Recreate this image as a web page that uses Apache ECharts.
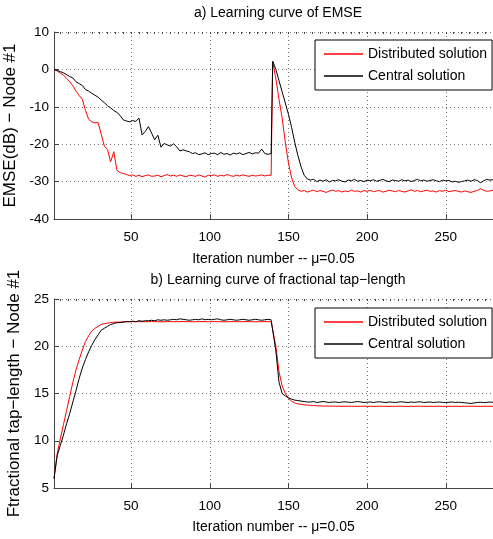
<!DOCTYPE html>
<html>
<head>
<meta charset="utf-8">
<script src="https://cdn.jsdelivr.net/npm/echarts@6/dist/echarts.min.js"></script>
<style>
html,body{margin:0;padding:0;background:#fff;}
#chart{width:493px;height:539px;}
</style>
</head>
<body>
<div id="chart"></div>
<script>
// iteration numbers of the samples (odd up to 139, even from 140)
var iterations = [1,3,5,7,9,11,13,15,17,19,21,23,25,27,29,31,33,35,37,39,
	41,43,45,47,49,51,53,55,57,59,61,63,65,67,69,71,73,75,77,79,
	81,83,85,87,89,91,93,95,97,99,101,103,105,107,109,111,113,115,117,119,
	121,123,125,127,129,131,133,135,137,139,
	140,142,144,146,148,150,152,154,156,158,160,162,164,166,168,170,172,174,176,178,
	180,182,184,186,188,190,192,194,196,198,200,202,204,206,208,210,212,214,216,218,
	220,222,224,226,228,230,232,234,236,238,240,242,244,246,248,250,252,254,256,258,
	260,262,264,266,268,270,272,274,276,278,280];

// a) EMSE (dB)
var emseDist = [0,-0.4,-1.0,-1.5,-2.4,-3.3,-4.4,-5.8,-7.0,-8.0,
	-11.0,-13.3,-14.0,-14.3,-14.2,-17.3,-20.5,-21.4,-24.7,-22.0,
	-27.0,-27.6,-27.8,-28.1,-28.4,-28.2,-28.6,-28.3,-28.7,-28.4,
	-28.2,-28.6,-28.5,-28.3,-28.7,-28.4,-28.1,-28.5,-28.3,-28.6,
	-28.2,-28.5,-28.7,-28.3,-28.4,-28.6,-28.2,-28.5,-28.8,-28.3,
	-28.4,-28.2,-28.6,-28.3,-28.5,-28.1,-28.4,-28.6,-28.3,-28.5,
	-28.2,-28.4,-28.6,-28.3,-28.5,-28.4,-28.2,-28.5,-28.3,-28.3,
	2.0,-2.5,-8.0,-13.0,-19.5,-25.0,-29.0,-31.3,-32.2,-32.6,
	-32.4,-32.8,-32.5,-32.3,-32.7,-32.4,-32.6,-32.9,-32.5,-32.3,
	-32.6,-32.4,-32.8,-32.5,-32.7,-32.3,-32.6,-32.5,-32.8,-32.4,
	-32.6,-32.3,-32.7,-32.5,-32.4,-32.8,-32.6,-32.3,-32.5,-32.7,
	-32.4,-32.6,-32.8,-32.5,-32.2,-32.6,-32.4,-32.7,-32.5,-32.3,
	-32.6,-32.5,-32.8,-32.4,-32.6,-32.3,-32.7,-32.5,-32.4,-32.6,
	-32.8,-32.5,-32.7,-32.9,-32.6,-32.4,-31.9,-32.3,-32.6,-32.5,
	-32.3];
var emseCentral = [0,-0.3,-0.6,-0.9,-1.4,-1.9,-2.3,-3.3,-3.8,-4.3,
	-5.4,-5.8,-6.4,-6.9,-7.4,-8.2,-8.9,-9.7,-10.3,-11.0,
	-11.5,-12.3,-13.5,-13.8,-14.0,-13.7,-13.9,-13.0,-17.5,-16.6,
	-15.3,-17.0,-18.8,-17.6,-20.8,-19.8,-20.2,-20.5,-19.9,-20.7,
	-21.8,-21.5,-21.8,-22.0,-22.5,-22.3,-22.8,-22.6,-22.3,-22.8,
	-22.5,-22.4,-22.8,-22.2,-22.7,-22.5,-22.9,-22.4,-22.6,-22.3,
	-22.8,-22.5,-22.2,-22.6,-22.3,-22.4,-21.3,-22.5,-22.7,-22.5,
	2.2,0.0,-3.0,-6.0,-9.0,-12.0,-15.5,-19.5,-23.0,-26.0,
	-28.3,-29.3,-29.6,-29.4,-30.0,-29.6,-29.9,-29.5,-30.1,-29.7,
	-29.8,-29.5,-29.9,-30.1,-29.6,-29.8,-29.4,-29.9,-29.7,-30.0,
	-29.6,-29.8,-29.5,-29.9,-29.7,-29.4,-29.8,-30.0,-29.6,-29.7,
	-29.9,-29.5,-29.8,-29.6,-30.0,-29.7,-29.4,-29.8,-29.6,-29.9,
	-29.7,-29.5,-29.8,-30.0,-29.6,-29.8,-29.7,-30.1,-29.9,-30.2,
	-30.0,-29.8,-29.6,-29.9,-29.5,-29.7,-30.3,-29.8,-29.4,-29.6,
	-29.5];

// b) fractional tap-length
var tapDist = [6.0,8.6,10.2,11.7,13.2,14.7,16.2,17.5,18.6,19.6,
	20.5,21.1,21.6,21.9,22.1,22.3,22.4,22.45,22.5,22.55,
	22.55,22.55,22.6,22.6,22.6,22.6,22.6,22.6,22.6,22.6,
	22.6,22.62,22.6,22.6,22.58,22.6,22.6,22.62,22.6,22.6,
	22.6,22.62,22.6,22.6,22.58,22.6,22.6,22.62,22.6,22.6,
	22.6,22.62,22.6,22.6,22.58,22.6,22.6,22.62,22.6,22.6,
	22.6,22.62,22.6,22.6,22.58,22.6,22.6,22.62,22.6,22.6,
	22.6,20.0,17.3,15.8,15.0,14.5,14.2,14.0,13.9,13.85,
	13.8,13.77,13.75,13.72,13.7,13.69,13.68,13.67,13.66,13.66,
	13.65,13.66,13.64,13.65,13.66,13.64,13.65,13.63,13.65,13.66,
	13.64,13.65,13.63,13.64,13.66,13.65,13.64,13.63,13.65,13.64,
	13.66,13.65,13.64,13.63,13.65,13.64,13.66,13.65,13.64,13.63,
	13.65,13.64,13.65,13.66,13.64,13.63,13.65,13.64,13.65,13.64,
	13.63,13.65,13.64,13.66,13.65,13.64,13.63,13.65,13.64,13.65,
	13.64];
var tapCentral = [6.0,8.4,9.5,10.6,11.8,12.9,14.1,15.3,16.6,17.7,
	18.6,19.4,20.1,20.7,21.2,21.7,21.9,22.1,22.3,22.4,
	22.5,22.5,22.55,22.6,22.6,22.65,22.6,22.7,22.65,22.7,
	22.7,22.75,22.7,22.8,22.75,22.8,22.75,22.8,22.85,22.8,
	22.9,22.85,22.8,22.75,22.8,22.85,22.8,22.9,22.8,22.85,
	22.8,22.85,22.9,22.8,22.75,22.8,22.85,22.8,22.75,22.8,
	22.85,22.8,22.75,22.8,22.85,22.8,22.75,22.8,22.85,22.8,
	22.8,19.5,16.2,15.0,14.75,14.55,14.4,14.3,14.25,14.2,
	14.15,14.1,14.1,14.15,14.05,14.1,14.15,14.1,14.05,14.1,
	14.1,14.05,14.1,14.12,14.08,14.05,14.1,14.15,14.1,14.05,
	14.08,14.1,14.05,14.1,14.12,14.08,14.05,14.1,14.08,14.05,
	14.1,14.12,14.08,14.05,14.1,14.06,14.1,14.12,14.05,14.08,
	14.1,14.05,14.08,14.1,14.06,14.04,14.08,14.1,14.05,14.08,
	14.05,14.02,13.98,13.95,14.0,14.05,14.08,14.04,14.06,14.1,
	14.06];

var seriesNames = ['Distributed solution', 'Central solution'];
var xTicks = [50, 100, 150, 200, 250];
var minorTicks = [];
for (var t = 5; t <= 280; t += 5) minorTicks.push(t);

var font = "'Liberation Sans', Arial, sans-serif";
var axisColor = '#444';

function pairs(ys) {
	return iterations.map(function (x, k) { return [x, ys[k]]; });
}

function mainX(g, gap) {
	return {
		gridIndex: g, type: 'value', min: 1, max: 280,
		name: 'Iteration number -- \u03bc=0.05', nameLocation: 'middle', nameGap: gap,
		nameTextStyle: {fontFamily: font, fontSize: 14, color: '#000'},
		axisLine: {onZero: false, lineStyle: {color: axisColor, width: 1}},
		axisTick: {inside: true, length: 5, customValues: xTicks, lineStyle: {color: axisColor}},
		axisLabel: {customValues: xTicks, margin: 11, fontFamily: font, fontSize: 13.5, color: '#000'},
		splitLine: {show: true, lineStyle: {type: [1, 3], color: '#777', width: 1}}
	};
}
function minorX(g) {
	return {
		gridIndex: g, type: 'value', min: 1, max: 280,
		axisLine: {show: false, onZero: false}, axisLabel: {show: false}, splitLine: {show: false},
		axisTick: {inside: true, length: 2, customValues: minorTicks, lineStyle: {color: axisColor}}
	};
}
function mainY(g, min, max, step, name) {
	return {
		gridIndex: g, type: 'value', min: min, max: max, interval: step,
		name: name, nameLocation: 'middle', nameGap: 28,
		nameTextStyle: {fontFamily: font, fontSize: 17, color: '#000'},
		axisLine: {show: true, onZero: false, lineStyle: {color: axisColor, width: 1}},
		axisTick: {show: true, inside: true, length: 5, lineStyle: {color: axisColor}},
		axisLabel: {margin: 5, fontFamily: font, fontSize: 13.5, color: '#000'},
		splitLine: {show: true, lineStyle: {type: [1, 3], color: '#777', width: 1}}
	};
}
function legendAt(top) {
	return {
		data: seriesNames, orient: 'vertical', left: 315, top: top,
		padding: [6, 5, 6, 9], itemGap: 6, itemWidth: 39, itemHeight: 1.5, icon: 'rect',
		borderColor: '#000', borderWidth: 1, backgroundColor: '#fff',
		textStyle: {fontFamily: font, fontSize: 14, lineHeight: 16, color: '#000'}
	};
}
function line(name, x, y, ys, color) {
	return {
		name: name, type: 'line', xAxisIndex: x, yAxisIndex: y, data: pairs(ys),
		symbol: 'none', showSymbol: false,
		lineStyle: {width: 1, color: color}, itemStyle: {color: color}
	};
}

var myChart = echarts.init(document.getElementById('chart'));
var option = {
	animation: false,
	backgroundColor: '#fff',
	title: [
		{text: 'a) Learning curve of EMSE', left: 273, top: 1, textAlign: 'center',
			textStyle: {fontFamily: font, fontSize: 14, fontWeight: 'normal', color: '#000'}},
		{text: 'b) Learning curve of fractional tap\u2212length', left: 273, top: 268, textAlign: 'center',
			textStyle: {fontFamily: font, fontSize: 14, fontWeight: 'normal', color: '#000'}}
	],
	grid: [
		{left: 54, top: 32, width: 439, height: 187, containLabel: false, outerBoundsMode: 'none'},
		{left: 54, top: 299, width: 439, height: 189, containLabel: false, outerBoundsMode: 'none'}
	],
	xAxis: [mainX(0, 33), minorX(0), mainX(1, 32), minorX(1)],
	yAxis: [
		mainY(0, -40, 10, 10, 'EMSE(dB) \u2212 Node #1'),
		mainY(1, 5, 25, 5, 'Ftractional tap\u2212length \u2212 Node #1')
	],
	legend: [legendAt(40), legendAt(308)],
	series: [
		line(seriesNames[0], 0, 0, emseDist, '#ff0000'),
		line(seriesNames[1], 0, 0, emseCentral, '#000000'),
		line(seriesNames[0], 2, 1, tapDist, '#ff0000'),
		line(seriesNames[1], 2, 1, tapCentral, '#000000')
	]
};
myChart.setOption(option);
</script>
</body>
</html>
